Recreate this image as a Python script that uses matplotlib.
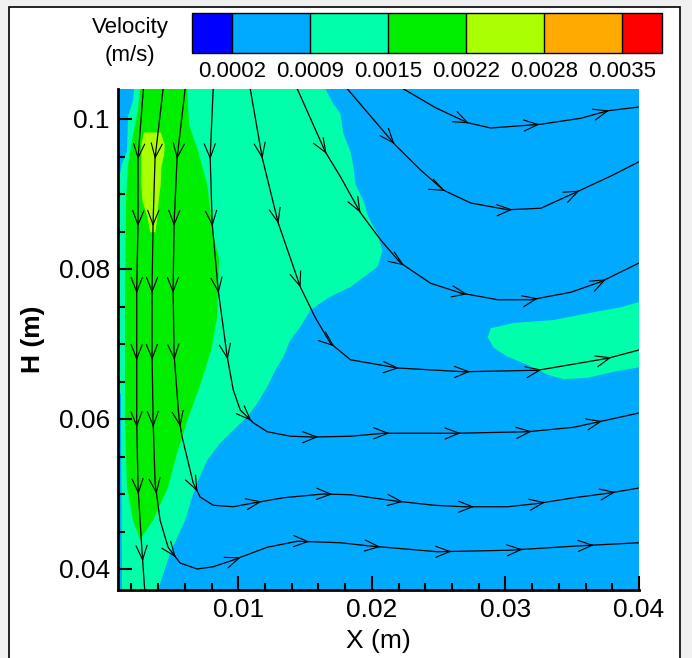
import numpy as np
import matplotlib.pyplot as plt
from matplotlib import colors, patches
from matplotlib.cm import ScalarMappable

plt.rcParams['font.family'] = ['Liberation Sans Narrow', 'Liberation Sans', 'DejaVu Sans']

# colour scale (m/s)
levels = [0.0002, 0.0009, 0.0015, 0.0022, 0.0028, 0.0035]
band_colors = ['#0000ff', '#00aaff', '#00ffaa', '#00ee00', '#aaff00', '#ffaa00', '#ff0000']

# velocity zones: outline (m) and speed (m/s)
bg_speed = 0.0006

aqua_speed = 0.0012
aqua_x = [0.001, 0.016525, 0.017125, 0.01765, 0.017875, 0.0184, 0.018625, 0.018775, 0.019375,
          0.01975, 0.020425, 0.0208, 0.020425, 0.019, 0.0184, 0.016675, 0.0154, 0.01465, 0.0139,
          0.013375, 0.012775, 0.012175, 0.011425, 0.010675, 0.009625, 0.00865, 0.007675,
          0.006775, 0.006025, 0.0049, 0.004, 0.001]
aqua_y = [0.104, 0.104, 0.102, 0.1007, 0.098, 0.0957, 0.0936, 0.0913, 0.0891,
          0.0869, 0.0847, 0.0824, 0.0803, 0.0784, 0.0776, 0.0761, 0.0745, 0.0723, 0.0705,
          0.0683, 0.0665, 0.0643, 0.0621, 0.0603, 0.0585, 0.0568, 0.0545,
          0.0509, 0.0465, 0.0421, 0.0372, 0.0372]

green_speed = 0.0018
green_x = [0.00265, 0.006175, 0.006325, 0.007, 0.007675, 0.008125, 0.008575, 0.0085, 0.008425,
           0.007975, 0.00715, 0.00625, 0.005425, 0.00475, 0.003625, 0.00265, 0.002125,
           0.001675, 0.001525, 0.001525, 0.0016, 0.00175, 0.002125, 0.0025]
green_y = [0.104, 0.104, 0.0992, 0.0957, 0.0913, 0.0847, 0.0812, 0.0781, 0.0736,
           0.0692, 0.0645, 0.0601, 0.0555, 0.0509, 0.0465, 0.0439, 0.0465,
           0.0509, 0.0599, 0.0759, 0.0892, 0.0939, 0.0979, 0.1012]

peak_speed = 0.0025
peak_x = [0.002950, 0.00420, 0.00450, 0.004450, 0.00425, 0.00420, 0.00405, 0.003950, 0.003800,
          0.003400, 0.00320, 0.002825, 0.00275, 0.00275, 0.00275]
peak_y = [0.0982, 0.0982, 0.0966, 0.0952, 0.0936, 0.0913, 0.0891, 0.0869, 0.0849,
          0.0849, 0.0869, 0.0891, 0.0913, 0.0945, 0.0966]

blob_speed = 0.0012
blob_x = [0.028675, 0.0289, 0.030625, 0.033625, 0.036175, 0.03865, 0.04, 0.04, 0.038125,
          0.036175, 0.034375, 0.033175, 0.031675, 0.030175, 0.029125]
blob_y = [0.0709, 0.0721, 0.0728, 0.0732, 0.0741, 0.0749, 0.0756, 0.0669, 0.0663,
          0.0655, 0.0653, 0.0659, 0.0672, 0.0683, 0.0695]

wall_speed = 0.0006
wall_top_x = [0.001, 0.0022, 0.002125, 0.00175, 0.001675, 0.0013, 0.001075, 0.001]
wall_top_y = [0.104, 0.104, 0.1025, 0.1003, 0.0957, 0.0941, 0.0919, 0.0919]
wall_low_x = [0.001, 0.00122, 0.0013, 0.001]
wall_low_y = [0.0639, 0.0633, 0.0372, 0.0372]

# streamlines (m)
s1_x = [0.0029, 0.0025, 0.0025, 0.0024, 0.0024, 0.0024, 0.0025, 0.0028, 0.0030]
s1_y = [0.104, 0.0948, 0.0861, 0.0773, 0.0685, 0.0596, 0.0509, 0.0423, 0.0372]
s2_x = [0.004375, 0.003775, 0.003625, 0.00355, 0.00355, 0.003625, 0.003775, 0.00415, 0.00475,
        0.00565, 0.006925, 0.008125, 0.009625, 0.012175, 0.014425, 0.01765, 0.019675,
        0.024925, 0.03025, 0.03565, 0.04]
s2_y = [0.104, 0.0948, 0.0861, 0.0772, 0.0685, 0.0599, 0.0515, 0.0465, 0.0429,
        0.0408, 0.0400, 0.0403, 0.0412, 0.0429, 0.0437, 0.0435, 0.0431,
        0.0423, 0.0425, 0.0431, 0.0435]
s3_x = [0.006025, 0.005425, 0.0052, 0.005125, 0.0052, 0.005575, 0.0058, 0.006625, 0.00715,
        0.008125, 0.009625, 0.011125, 0.013375, 0.016375, 0.0184, 0.021625, 0.024625,
        0.026875, 0.030175, 0.032275, 0.035125, 0.037675, 0.04]
s3_y = [0.104, 0.0948, 0.0861, 0.0772, 0.0685, 0.0599, 0.0576, 0.0515, 0.0496,
        0.0485, 0.0483, 0.0488, 0.0495, 0.0500, 0.0499, 0.0491, 0.0485,
        0.0483, 0.0483, 0.0487, 0.0495, 0.0501, 0.0508]
s4_x = [0.008125, 0.0079, 0.00805, 0.0085, 0.009175, 0.009625, 0.01015, 0.010675, 0.011125,
        0.012175, 0.0139, 0.015625, 0.0184, 0.020875, 0.026275, 0.031675, 0.035125,
        0.036925, 0.04]
s4_y = [0.104, 0.0949, 0.0861, 0.0772, 0.0683, 0.0639, 0.0612, 0.0603, 0.0595,
        0.0583, 0.0577, 0.0576, 0.0577, 0.0581, 0.0581, 0.0583, 0.0589,
        0.0596, 0.0608]
s5_x = [0.0109, 0.0118, 0.013, 0.01465, 0.015775, 0.0169, 0.0184, 0.021925, 0.026875,
        0.032425, 0.037675, 0.04]
s5_y = [0.104, 0.0948, 0.0861, 0.0776, 0.0735, 0.0701, 0.0679, 0.0668, 0.0663,
        0.0665, 0.0681, 0.0692]
s6_x = [0.014425, 0.016525, 0.01765, 0.01915, 0.02065, 0.02215, 0.0244, 0.02665, 0.029425,
        0.0319, 0.0349, 0.03715, 0.04]
s6_y = [0.104, 0.0956, 0.0923, 0.0875, 0.0839, 0.0808, 0.0781, 0.0768, 0.0759,
        0.0759, 0.0769, 0.0783, 0.0808]
s7_x = [0.018175, 0.0199, 0.021775, 0.02365, 0.025375, 0.0274, 0.030175, 0.03265, 0.035125,
        0.0379, 0.04]
s7_y = [0.104, 0.1004, 0.0965, 0.0932, 0.0905, 0.0888, 0.0879, 0.0881, 0.0901,
        0.0924, 0.0943]
s8_x = [0.022375, 0.024775, 0.027175, 0.0289, 0.03265, 0.03565, 0.037675, 0.04]
s8_y = [0.104, 0.1015, 0.0995, 0.0988, 0.0993, 0.1001, 0.1011, 0.1016]

streams = [(s1_x, s1_y), (s2_x, s2_y), (s3_x, s3_y), (s4_x, s4_y),
           (s5_x, s5_y), (s6_x, s6_y), (s7_x, s7_y), (s8_x, s8_y)]

cmap = colors.ListedColormap(band_colors[1:-1])
cmap.set_under(band_colors[0])
cmap.set_over(band_colors[-1])
norm = colors.BoundaryNorm(levels, cmap.N)

fig = plt.figure(figsize=(6.92, 6.58), dpi=100)
fig.patch.set_facecolor('#f0f0f0')
fig.patches.append(patches.Rectangle((9 / 692, -0.01), 671 / 692, 1.0 - 7 / 658 + 0.01,
                                     transform=fig.transFigure, facecolor='white',
                                     edgecolor='black', linewidth=1.2, zorder=-10))

ax = fig.add_axes([118 / 692, 68 / 658, 521 / 692, 501 / 658])
ax.set_xlim(0.001, 0.04)
ax.set_ylim(0.0372, 0.104)
ax.set_facecolor(cmap(norm(bg_speed)))

zones = [(aqua_x, aqua_y, aqua_speed), (green_x, green_y, green_speed),
         (peak_x, peak_y, peak_speed), (blob_x, blob_y, blob_speed),
         (wall_top_x, wall_top_y, wall_speed), (wall_low_x, wall_low_y, wall_speed)]
for zx, zy, sp in zones:
    ax.fill(zx, zy, color=cmap(norm(sp)), lw=0, zorder=1)


def add_arrows(xs, ys, first=69, step=67, head=14, half=5.5):
    pts = ax.transData.transform(np.column_stack([xs, ys]))
    d = np.diff(pts, axis=0)
    seg = np.hypot(d[:, 0] * 0.94, d[:, 1])
    cum = np.concatenate([[0], np.cumsum(seg)])
    inv = ax.transData.inverted()
    s = first
    while s < cum[-1] - 8:
        i = np.searchsorted(cum, s) - 1
        t = (s - cum[i]) / seg[i]
        tip = pts[i] + t * d[i]
        u = d[i] / np.hypot(*d[i])
        n = np.array([-u[1], u[0]])
        for sgn in (1, -1):
            a = inv.transform(np.array([tip - head * u + sgn * half * n, tip]))
            ax.plot(a[:, 0], a[:, 1], color='black', lw=0.8, zorder=3)
        s += step


for sx, sy in streams:
    ax.plot(sx, sy, color='black', lw=0.9, zorder=3)
    add_arrows(sx, sy)

ax.set_xticks([0.01, 0.02, 0.03, 0.04])
ax.set_xticklabels(['0.01', '0.02', '0.03', '0.04'])
ax.set_xticks(np.arange(0.002, 0.0401, 0.002), minor=True)
ax.set_yticks([0.04, 0.06, 0.08, 0.1])
ax.set_yticklabels(['0.04', '0.06', '0.08', '0.1'])
ax.set_yticks([0.045, 0.05, 0.055, 0.065, 0.07, 0.075, 0.085, 0.09, 0.095], minor=True)
ax.tick_params(which='both', direction='in', width=1.5, labelsize=19, pad=6)
ax.tick_params(which='major', length=10)
ax.tick_params(which='minor', length=5)
for side in ['top', 'right']:
    ax.spines[side].set_visible(False)
for side in ['left', 'bottom']:
    ax.spines[side].set_linewidth(2)
    ax.spines[side].set_zorder(5)
ax.set_xlabel('X (m)', fontsize=19, labelpad=5)
ax.set_ylabel('H (m)', fontsize=19, fontweight='bold', labelpad=10)

cax = fig.add_axes([192 / 692, 605 / 658, 470 / 692, 40 / 658])
cb = fig.colorbar(ScalarMappable(norm=norm, cmap=cmap), cax=cax, orientation='horizontal',
                  extend='both', extendrect=True, extendfrac=0.103, drawedges=True)
cb.set_ticks(levels)
cb.set_ticklabels(['%.4f' % v for v in levels])
cb.outline.set_linewidth(1)
cb.dividers.set_linewidth(1)
cax.tick_params(length=0, labelsize=16, pad=6)
fig.text(130 / 692, 1 - 28 / 658, 'Velocity', ha='center', va='center', fontsize=16)
fig.text(130 / 692, 1 - 55 / 658, '(m/s)', ha='center', va='center', fontsize=16)

fig.savefig('out.png', dpi=100, facecolor=fig.get_facecolor())
